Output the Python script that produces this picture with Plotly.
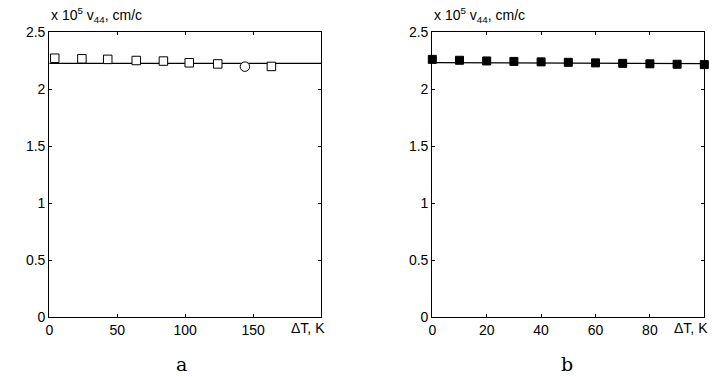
import plotly.graph_objects as go

# Panel a data
a_x_sq = [4, 24, 43, 64, 84, 103, 124, 163.5]
a_y_sq = [2.27, 2.265, 2.26, 2.25, 2.245, 2.23, 2.22, 2.198]
a_x_circ = [144]
a_y_circ = [2.196]
a_line_x = [0, 200]
a_line_y = [2.225, 2.225]

# Panel b data
b_x = [0, 10, 20, 30, 40, 50, 60, 70, 80, 90, 100]
b_y = [2.26, 2.252, 2.246, 2.242, 2.238, 2.234, 2.229, 2.225, 2.221, 2.217, 2.214]
b_line_x = [0, 100]
b_line_y = [2.232, 2.222]

y_ticks = [0, 0.5, 1, 1.5, 2, 2.5]
y_ticktext = ["0", "0.5", "1", "1.5", "2", "2.5"]
a_xticks = [0, 50, 100, 150]
b_xticks = [0, 20, 40, 60, 80]

W, H = 718, 377
FONT = "Liberation Sans, Arial, sans-serif"
FS = 14

fig = go.Figure()
# panel a
fig.add_trace(go.Scatter(x=a_line_x, y=a_line_y, mode="lines",
                         line=dict(color="black", width=1.3), xaxis="x", yaxis="y"))
fig.add_trace(go.Scatter(x=a_x_sq, y=a_y_sq, mode="markers", cliponaxis=False,
                         marker=dict(symbol="square", size=8.5, color="white",
                                     line=dict(color="black", width=1)),
                         xaxis="x", yaxis="y"))
fig.add_trace(go.Scatter(x=a_x_circ, y=a_y_circ, mode="markers", cliponaxis=False,
                         marker=dict(symbol="circle", size=9.5, color="white",
                                     line=dict(color="black", width=1)),
                         xaxis="x", yaxis="y"))
# panel b
fig.add_trace(go.Scatter(x=b_line_x, y=b_line_y, mode="lines",
                         line=dict(color="black", width=1.3), xaxis="x2", yaxis="y2"))
fig.add_trace(go.Scatter(x=b_x, y=b_y, mode="markers", cliponaxis=False,
                         marker=dict(symbol="square", size=8, color="black",
                                     line=dict(color="black", width=1)),
                         xaxis="x2", yaxis="y2"))

ydom = [1 - 317 / H, 1 - 32 / H]
common_axis = dict(showline=True, linecolor="black", linewidth=1.2, mirror="ticks",
                   ticks="inside", ticklen=3, tickcolor="black", tickwidth=1,
                   showgrid=False, zeroline=False, automargin=False,
                   tickfont=dict(family=FONT, size=FS, color="black"))

fig.update_layout(
    width=W, height=H, margin=dict(l=0, r=0, t=0, b=0, autoexpand=False),
    plot_bgcolor="white", paper_bgcolor="white", showlegend=False,
    xaxis=dict(domain=[49.3 / W, 321 / W], range=[0, 200], tickvals=a_xticks,
               anchor="y", **common_axis),
    yaxis=dict(domain=ydom, range=[0, 2.5], tickvals=y_ticks, ticktext=y_ticktext,
               anchor="x", **common_axis),
    xaxis2=dict(domain=[432.3 / W, 704.3 / W], range=[0, 100], tickvals=b_xticks,
                anchor="y2", **common_axis),
    yaxis2=dict(domain=ydom, range=[0, 2.5], tickvals=y_ticks, ticktext=y_ticktext,
                anchor="x2", **common_axis),
)

ylab = "x 10<sup>5</sup> v<sub>44</sub>, cm/c"
for xl in [49, 432]:
    fig.add_annotation(text=ylab, xref="paper", yref="paper", x=xl / W, y=1 - 27 / H,
                       xanchor="left", yanchor="bottom", showarrow=False,
                       font=dict(family=FONT, size=FS, color="black"))
for xl in [289, 672]:
    fig.add_annotation(text="ΔT, K", xref="paper", yref="paper", x=xl / W, y=1 - 328 / H,
                       xanchor="left", yanchor="middle", showarrow=False,
                       font=dict(family=FONT, size=FS, color="black"))
for txt, xc in [("a", 181), ("b", 567)]:
    fig.add_annotation(text=txt, xref="paper", yref="paper", x=xc / W, y=1 - 364 / H,
                       xanchor="center", yanchor="middle", showarrow=False,
                       font=dict(family="DejaVu Serif, Liberation Serif, serif", size=19, color="black"))

fig.write_html("out.html", config={"displayModeBar": False},
               post_script="document.body.style.margin='0';document.body.style.padding='0';"
                           "document.documentElement.style.overflow='hidden';")
